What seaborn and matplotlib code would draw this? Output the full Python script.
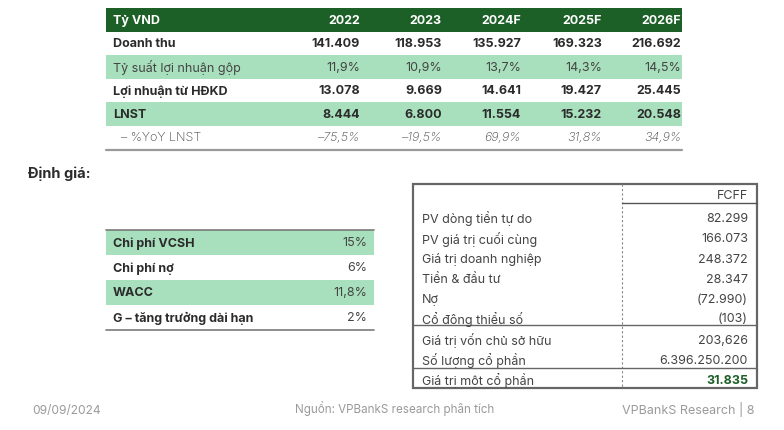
import numpy as np
import seaborn as sns
import matplotlib.pyplot as plt
from matplotlib.colors import ListedColormap

# ---- data -------------------------------------------------------------
years = ["2022", "2023", "2024F", "2025F", "2026F"]
revenue = [141409, 118953, 135927, 169323, 216692]
gross_margin = [11.9, 10.9, 13.7, 14.3, 14.5]
op_profit = [13078, 9669, 14641, 19427, 25445]
npat = [8444, 6800, 11554, 15232, 20548]
npat_yoy = [-75.5, -19.5, 69.9, 31.8, 34.9]

wacc_labels = ["Chi phí VCSH", "Chi phí nợ", "WACC", "G – tăng trưởng dài hạn"]
wacc_values = ["15%", "6%", "11,8%", "2%"]

fcff_labels = ["PV dòng tiền tự do", "PV giá trị cuối cùng", "Giá trị doanh nghiệp",
               "Tiền & đầu tư", "Nợ", "Cổ đông thiểu số", "Giá trị vốn chủ sở hữu",
               "Số lượng cổ phần", "Giá trị một cổ phần"]
fcff_values = ["82.299", "166.073", "248.372", "28.347", "(72.990)", "(103)",
               "203,626", "6.396.250.200", "31.835"]

DARK = "#1c5f27"
LIGHT = "#a8e0bd"
TXT = "#2b2b2b"
FONT = ["Inter", "DejaVu Sans"]


def vn_int(v):
    return f"{v:,}".replace(",", ".")


def vn_pct(v):
    return f"{v:.1f}%".replace(".", ",").replace("-", "–")


sns.set_theme(style="white")
plt.rcParams["font.family"] = FONT

W, H = 784, 431
fig = plt.figure(figsize=(W / 100, H / 100), dpi=100)


def px_axes(x0, y0, x1, y1):
    return fig.add_axes([x0 / W, 1 - y1 / H, (x1 - x0) / W, (y1 - y0) / H])


# row shading of the financial table through seaborn heatmap
top_ax = px_axes(106, 9, 682, 150)
shade = np.array([[2], [0], [1], [0], [1], [0]])
sns.heatmap(shade, ax=top_ax, cmap=ListedColormap(["white", LIGHT, DARK]),
            vmin=-0.5, vmax=2.5, cbar=False, xticklabels=False, yticklabels=False)

left_ax = px_axes(106, 231, 374, 331)
sns.heatmap(np.array([[1], [0], [1], [0]]), ax=left_ax,
            cmap=ListedColormap(["white", LIGHT]), vmin=-0.5, vmax=1.5,
            cbar=False, xticklabels=False, yticklabels=False)

# overlay axes in pixel coordinates for text and rules
ax = fig.add_axes([0, 0, 1, 1])
ax.set_xlim(0, W)
ax.set_ylim(H, 0)
ax.axis("off")
ax.patch.set_alpha(0)

# ---- top table -------------------------------------------------------
col_x = [360, 442, 521, 602, 681]
row_y = [9 + 23.5 * (i + 0.5) for i in range(6)]
fs = 9

ax.text(113, row_y[0], "Tỷ VND", color="white", fontsize=fs, fontweight="bold", va="center")
for x, yr in zip(col_x, years):
    ax.text(x, row_y[0], yr, color="white", fontsize=fs, fontweight="bold", va="center", ha="right")

rows = [
    ("Doanh thu", [vn_int(v) for v in revenue], "bold", "normal", 113),
    ("Tỷ suất lợi nhuận gộp", [vn_pct(v) for v in gross_margin], "normal", "normal", 113),
    ("Lợi nhuận từ HĐKD", [vn_int(v) for v in op_profit], "bold", "normal", 113),
    ("LNST", [vn_int(v) for v in npat], "bold", "normal", 113),
    ("– %YoY LNST", [vn_pct(v) for v in npat_yoy], "light", "italic", 121),
]
for i, (label, vals, wt, st, lx) in enumerate(rows):
    y = row_y[i + 1]
    c = TXT if wt == "bold" else "#444444"
    ax.text(lx, y, label, color=c, fontsize=fs, fontweight=wt, va="center")
    for x, v in zip(col_x, vals):
        ax.text(x, y, v, color=c, fontsize=fs, fontweight=wt, fontstyle=st,
                va="center", ha="right")
ax.plot([106, 682], [150.5, 150.5], color="#9a9a9a", lw=1.6)

# ---- valuation heading -----------------------------------------------
ax.text(28, 174, "Định giá:", color=TXT, fontsize=10.5, fontweight="bold", va="center")

# ---- WACC table ------------------------------------------------------
for i, (lab, val) in enumerate(zip(wacc_labels, wacc_values)):
    y = 231 + 25 * (i + 0.5)
    ax.text(113, y, lab, color=TXT, fontsize=fs, fontweight="bold", va="center")
    ax.text(367, y, val, color="#444444", fontsize=fs, va="center", ha="right")
ax.plot([106, 374], [231, 231], color="#7a7a7a", lw=1.2)
ax.plot([106, 374], [331, 331], color="#7a7a7a", lw=1.2)

# ---- FCFF table ------------------------------------------------------
ax.add_patch(plt.Rectangle((413, 185), 344, 204, fill=False, ec="#666666", lw=1.6))
ax.plot([622, 622], [185, 389], color="#888888", lw=0.8, ls=(0, (2, 2)))
ax.plot([622, 757], [204, 204], color="#555555", lw=1.0)
ax.plot([413, 757], [326, 326], color="#666666", lw=1.0)
ax.plot([413, 757], [369, 369], color="#666666", lw=1.0)
ax.text(748, 196, "FCFF", color="#444444", fontsize=9, va="center", ha="right")

fcff_y = [219, 239.5, 260, 280, 300, 319.5, 341, 361, 381]
for i, (lab, val, y) in enumerate(zip(fcff_labels, fcff_values, fcff_y)):
    last = i == len(fcff_labels) - 1
    ax.text(422, y, lab, color="#444444", fontsize=9, va="center")
    ax.text(748, y, val, color=DARK if last else "#444444", fontsize=9,
            fontweight="bold" if last else "normal", va="center", ha="right")

# ---- footer ----------------------------------------------------------
ax.text(32, 411, "09/09/2024", color="#9a9a9a", fontsize=8.6, va="center")
ax.text(295, 409, "Nguồn: VPBankS research phân tích", color="#9a9a9a", fontsize=8.4, va="center")
ax.text(755, 410, "VPBankS Research | 8", color="#9a9a9a", fontsize=9, va="center", ha="right")

fig.savefig("out.png", dpi=100)
